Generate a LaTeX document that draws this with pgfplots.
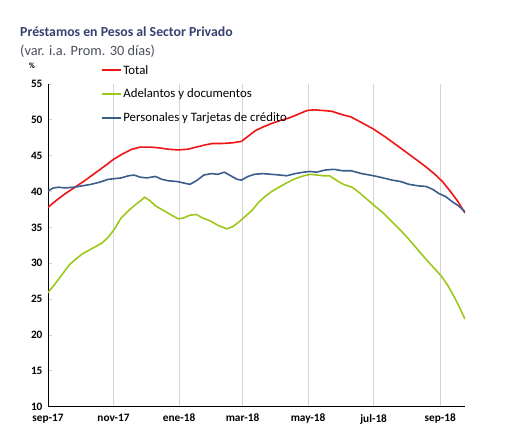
\documentclass[border=0pt]{standalone}
\usepackage{fontspec}
\setmainfont{Carlito}
\usepackage{pgfplots}
\pgfplotsset{compat=1.18}

\definecolor{ctitle}{HTML}{354170}
\definecolor{csub}{HTML}{4A4F5C}
\definecolor{cred}{HTML}{F01414}
\definecolor{cgreen}{HTML}{9CC81A}
\definecolor{cblue}{HTML}{3A5D8C}
\definecolor{cgrid}{HTML}{D4D4D4}

% days since 1 Sep 2017
\begin{document}
\begin{tikzpicture}
\useasboundingbox (0pt,0pt) rectangle (515pt,440pt);
\node[anchor=base west, text=ctitle, font=\fontsize{13.8}{15}\selectfont\bfseries, inner sep=0pt]
  at (20pt,403pt) {Préstamos en Pesos al Sector Privado};
\node[anchor=base west, text=csub, font=\fontsize{14.3}{16}\selectfont, inner sep=0pt]
  at (20pt,384pt) {(var. i.a. Prom. 30 días)};
\node[anchor=base, font=\fontsize{8}{9}\selectfont\bfseries, inner sep=0pt]
  at (32pt,371pt) {\%};
\begin{axis}[
    at={(48pt,33.4pt)}, anchor=south west,
    scale only axis,
    width=417pt, height=322.6pt,
    xmin=0, xmax=388,
    ymin=10, ymax=55,
    axis x line*=bottom, axis y line*=left,
    axis line style={-, black, line width=0.9pt},
    xtick={0,61,122,181,242,303,365},
    xticklabels={sep-17,nov-17,ene-18,mar-18,may-18,jul-18,sep-18},
    ytick={10,15,...,55},
    xmajorgrids,
    major grid style={cgrid, line width=0.9pt},
    x tick style={draw=none},
    y tick style={draw=cgrid, line width=0.8pt},
    tick align=inside,
    major tick length=4pt,
    tick label style={font=\fontsize{11.3}{12}\selectfont\bfseries},
    /pgf/number format/assume math mode=true,
    yticklabel style={xshift=-2pt},
    xticklabel style={yshift=-4pt},
    legend cell align=left,
    legend style={at={(0.128,1.062)}, anchor=north west, draw=none, fill=none,
      font=\fontsize{12.8}{14}\selectfont, row sep=11.5pt, inner sep=0pt,
      nodes={inner sep=1pt}},
    legend image code/.code={\draw[#1, line width=1.8pt] (0pt,0pt) -- (19pt,0pt);},
]
\addplot[cred, line width=1.6pt] coordinates {
(0,37.8) (8,38.8) (16,39.7) (24,40.5) (34,41.5) (45,42.7) (55,43.8) (61,44.5)
(70,45.3) (78,45.9) (86,46.2) (95,46.2) (103,46.1) (112,45.9) (121,45.8)
(130,45.9) (138,46.2) (146,46.5) (153,46.7) (162,46.7) (172,46.8) (180,47.0)
(187,47.8) (193,48.5) (200,49.0) (208,49.5) (216,49.9) (225,50.3) (233,50.8)
(241,51.3) (248,51.4) (256,51.3) (264,51.2) (272,50.8) (282,50.4) (292,49.6)
(303,48.7) (314,47.6) (325,46.4) (335,45.3) (344,44.3) (352,43.4) (360,42.4)
(367,41.4) (374,40.1) (381,38.7) (388,37.0)
};
\addlegendentry{Total}
\addplot[cgreen, line width=1.6pt] coordinates {
(0,25.9) (7,27.2) (14,28.6) (20,29.8) (26,30.6) (32,31.3) (38,31.8) (44,32.3)
(50,32.8) (56,33.6) (62,34.8) (68,36.3) (74,37.2) (80,38.0) (86,38.7) (90,39.2)
(95,38.7) (100,38.0) (107,37.4) (114,36.8) (121,36.2) (126,36.3) (132,36.7)
(138,36.8) (144,36.3) (151,35.9) (158,35.3) (166,34.8) (172,35.1) (178,35.8)
(184,36.6) (190,37.4) (196,38.5) (202,39.3) (208,40.0) (215,40.6) (222,41.2)
(230,41.8) (238,42.2) (244,42.4) (250,42.3) (256,42.2) (262,42.2) (268,41.6)
(275,41.0) (283,40.6) (290,39.8) (297,38.9) (304,38.0) (312,37.0) (320,35.8)
(328,34.6) (336,33.3) (344,31.9) (352,30.5) (360,29.2) (366,28.2) (372,26.9)
(378,25.3) (383,23.8) (388,22.2)
};
\addlegendentry{Adelantos y documentos}
\addplot[cblue, line width=1.6pt] coordinates {
(0,40.1) (5,40.5) (10,40.6) (16,40.5) (24,40.6) (32,40.8) (40,41.0) (48,41.3)
(56,41.7) (62,41.8) (68,41.9) (75,42.2) (80,42.3) (86,42.0) (92,41.9) (100,42.1)
(106,41.7) (112,41.5) (120,41.4) (126,41.2) (132,41.0) (138,41.5) (145,42.3)
(152,42.5) (158,42.4) (164,42.7) (170,42.2) (176,41.7) (180,41.6) (186,42.1)
(192,42.4) (200,42.5) (208,42.4) (216,42.3) (222,42.2) (230,42.5) (238,42.7)
(244,42.8) (250,42.7) (258,43.0) (266,43.1) (274,42.9) (282,42.9) (292,42.5)
(303,42.2) (312,41.9) (320,41.6) (328,41.4) (336,41.0) (344,40.8) (352,40.7)
(358,40.3) (364,39.7) (370,39.3) (376,38.6) (382,38.0) (388,37.2)
};
\addlegendentry{Personales y Tarjetas de crédito}
\end{axis}
\end{tikzpicture}
\end{document}
